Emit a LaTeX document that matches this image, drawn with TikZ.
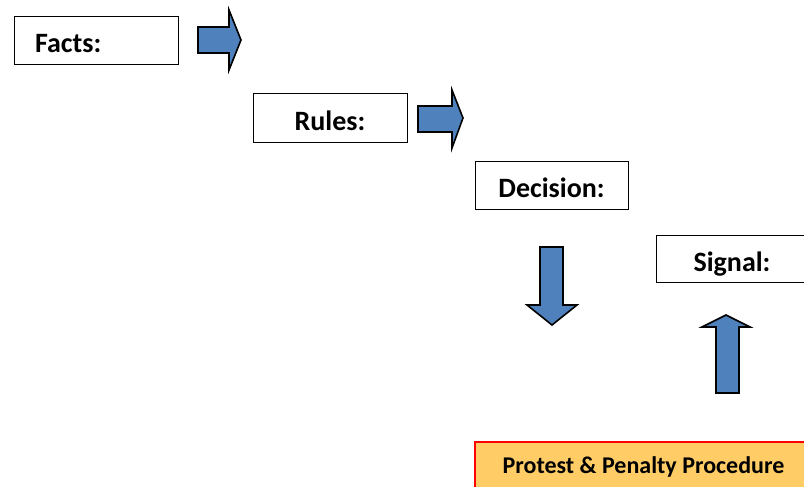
\documentclass[tikz,border=0pt]{standalone}
\usepackage{fontspec}
\setmainfont{Carlito}
\definecolor{arrowblue}{HTML}{4F81BD}
\definecolor{protestfill}{HTML}{FFCC66}
\begin{document}
\begin{tikzpicture}[x=1pt,y=-1pt,
  box/.style={draw=black, line width=0.9pt, fill=white, font=\fontsize{28}{32}\selectfont\bfseries, inner sep=0pt, text height=25pt, text depth=0pt},
  blockarrow/.style={draw=black, line width=1.6pt, fill=arrowblue, line join=miter},
  protest/.style={draw=red, line width=1.4pt, fill=protestfill, font=\fontsize{24}{28}\selectfont\bfseries, inner sep=0pt}]
\useasboundingbox (0,0) rectangle (804,487);
% boxes
\node[box, minimum width=164pt, minimum height=48pt, text width=122pt, align=left, inner xsep=21pt] (facts) at (96,40) {Facts:};
\node[box, minimum width=154pt, minimum height=49pt] (rules) at (330,117.5) {Rules:};
\node[box, minimum width=153pt, minimum height=48pt] (decision) at (551.5,185) {Decision:};
\node[box, minimum width=152pt, minimum height=47pt] (signal) at (732,259) {Signal:};
\node[protest, minimum width=337pt, minimum height=50pt] (protest) at (643.5,467) {Protest \& Penalty Procedure};
% block arrows
\draw[blockarrow] (198,27) -- (229,27) -- (229,10) -- (241,40) -- (229,70) -- (229,53) -- (198,53) -- cycle;
\draw[blockarrow] (418,106) -- (452,106) -- (452,90) -- (463,118) -- (452,148) -- (452,132) -- (418,132) -- cycle;
\draw[blockarrow] (540,247) -- (563,247) -- (563,305) -- (577,305) -- (552,325) -- (527,305) -- (540,305) -- cycle;
\draw[blockarrow] (716,393) -- (739,393) -- (739,327) -- (750,327) -- (726,315) -- (702,327) -- (716,327) -- cycle;
\end{tikzpicture}
\end{document}
